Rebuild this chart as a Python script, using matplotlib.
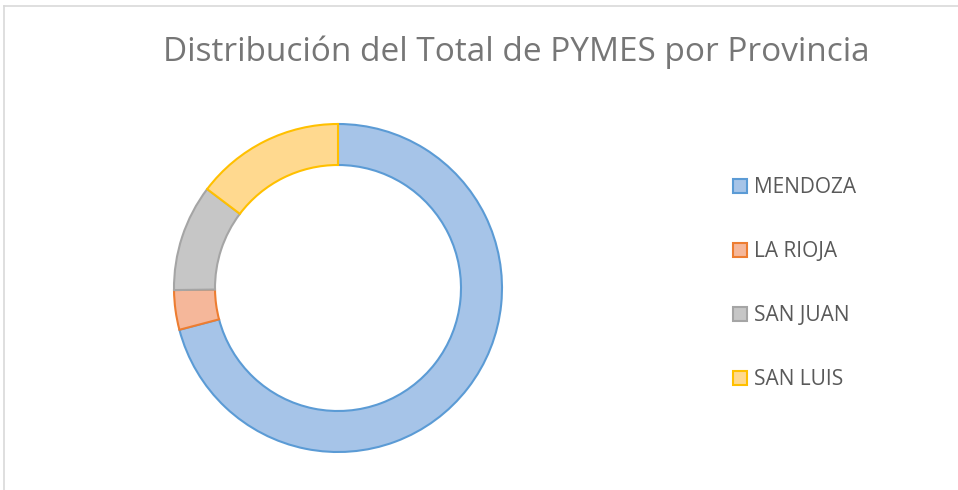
import matplotlib
matplotlib.use("Agg")
import matplotlib.pyplot as plt
from matplotlib.lines import Line2D

provincias = ["MENDOZA", "LA RIOJA", "SAN JUAN", "SAN LUIS"]
pymes = [709, 39, 105, 147]
fill_colors = ["#A6C4E8", "#F5B79A", "#C6C6C6", "#FFD98F"]
edge_colors = ["#5B9BD5", "#ED7D31", "#A5A5A5", "#FFC000"]

W, H = 958, 490
fig = plt.figure(figsize=(W / 100, H / 100), dpi=100)
ax = fig.add_axes([0, 0, 1, 1])

wedges, _ = ax.pie(pymes, colors=fill_colors, startangle=90, counterclock=False,
                   center=(338, H - 288), radius=164,
                   wedgeprops=dict(width=41, linewidth=1.5))
for w, ec in zip(wedges, edge_colors):
    w.set_edgecolor(ec)

ax.set_xlim(0, W)
ax.set_ylim(0, H)
ax.set_axis_off()

ax.text(516, H - 52, "Distribución del Total de PYMES por Provincia",
        ha="center", va="center", color="#767676",
        family="Open Sans", fontsize=24)

leg = ax.legend(wedges, provincias, loc="upper left",
                bbox_to_anchor=(733 / W, (H - 177) / H), frameon=False,
                borderpad=0, borderaxespad=0,
                handlelength=0.68, handleheight=0.68, handletextpad=0.34,
                labelspacing=2.07,
                prop=dict(family="Open Sans", size=15))
for t in leg.get_texts():
    t.set_color("#595959")

# chart area border (only top and left visible)
fig.add_artist(Line2D([4 / W, 4 / W], [0, 1 - 6 / H], color="#D9D9D9", lw=1.2))
fig.add_artist(Line2D([4 / W, 1], [1 - 6 / H, 1 - 6 / H], color="#D9D9D9", lw=1.2))

fig.savefig("out.png", dpi=100)
